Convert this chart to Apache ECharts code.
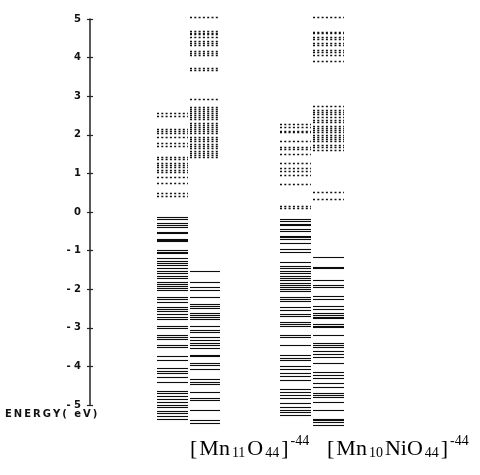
<!DOCTYPE html>
<html>
<head>
<meta charset="utf-8">
<script src="https://cdn.jsdelivr.net/npm/echarts@6/dist/echarts.min.js"></script>
<style>html,body{margin:0;padding:0;background:#fff;}#c{width:480px;height:475px;}</style>
</head>
<body>
<div id="c"></div>
<script>
// ---- data (energies in eV) ----
const yTicks = [-5,-4,-3,-2,-1,0,1,2,3,4,5];
const columnNames = ['Mn11O44 a', 'Mn11O44 b', 'Mn10NiO44 a', 'Mn10NiO44 b'];
const compoundLabels = ['[Mn11O44]-44', '[Mn10NiO44]-44'];
const axisTitle = 'ENERGY( eV)';

// unoccupied (dotted) levels
const col1Empty = [2.56,2.49,2.16,2.10,2.05,1.95,1.79,1.72,1.43,1.38,1.28,1.22,1.17,1.09,1.04,0.91,0.76,0.48,0.41];
const col2Empty = [5.04,4.70,4.65,4.60,4.54,4.42,4.37,4.32,4.18,4.13,4.07,3.73,3.68,2.92,2.73,2.68,2.62,2.57,2.52,2.47,2.42,2.31,2.26,2.21,2.16,2.09,2.04,1.95,1.90,1.85,1.76,1.71,1.66,1.59,1.54,1.48,1.42];
const col3Empty = [2.29,2.20,2.10,2.06,1.85,1.69,1.63,1.49,1.26,1.14,1.07,0.96,0.73,0.16,0.10];
const col4Empty = [5.04,4.67,4.63,4.53,4.47,4.37,4.32,4.20,4.15,4.08,3.92,2.75,2.64,2.59,2.54,2.47,2.38,2.33,2.23,2.18,2.12,2.07,2.00,1.95,1.90,1.85,1.73,1.68,1.61,0.53,0.33];

// occupied (solid) levels
const col1Filled = [-0.14,-0.18,-0.29,-0.34,-0.39,-0.51,-0.54,-0.69,-0.73,-0.76,-0.98,-1.03,-1.07,-1.20,-1.26,-1.31,-1.38,-1.46,-1.52,-1.59,-1.66,-1.72,-1.81,-1.87,-1.92,-1.98,-2.02,-2.21,-2.26,-2.32,-2.47,-2.52,-2.57,-2.64,-2.71,-2.76,-2.95,-3.01,-3.19,-3.25,-3.30,-3.45,-3.49,-3.73,-3.83,-4.05,-4.11,-4.18,-4.27,-4.40,-4.63,-4.70,-4.77,-4.85,-4.92,-5.00,-5.06,-5.15,-5.22,-5.28,-5.35];
const col2Filled = [-1.52,-1.81,-1.95,-2.02,-2.19,-2.38,-2.44,-2.49,-2.62,-2.68,-2.73,-2.78,-2.95,-3.06,-3.11,-3.23,-3.32,-3.39,-3.45,-3.52,-3.70,-3.73,-3.91,-3.96,-4.08,-4.32,-4.40,-4.46,-4.66,-4.83,-4.87,-5.13,-5.39,-5.46];
const col3Filled = [-0.19,-0.23,-0.31,-0.34,-0.45,-0.48,-0.62,-0.66,-0.69,-0.80,-0.97,-1.03,-1.29,-1.40,-1.45,-1.52,-1.59,-1.66,-1.71,-1.76,-1.84,-1.89,-1.94,-2.00,-2.04,-2.19,-2.25,-2.30,-2.47,-2.54,-2.63,-2.69,-2.85,-2.90,-2.95,-3.19,-3.25,-3.45,-3.71,-3.79,-3.83,-4.00,-4.07,-4.17,-4.26,-4.35,-4.59,-4.66,-4.74,-4.83,-4.94,-5.04,-5.13,-5.19,-5.26];
const col4Filled = [-1.16,-1.43,-1.46,-1.76,-1.89,-1.94,-2.18,-2.25,-2.44,-2.50,-2.62,-2.67,-2.71,-2.75,-2.90,-2.95,-2.99,-3.19,-3.39,-3.44,-3.49,-3.59,-3.68,-3.75,-3.92,-4.14,-4.22,-4.31,-4.42,-4.53,-4.68,-4.73,-4.78,-4.91,-5.13,-5.35,-5.39,-5.43,-5.52];

// ---- layout (x-axis units, not data) ----
const SPANS = [[6.7, 9.8], [10.0, 13.0], [19.0, 22.1], [22.3, 25.4]];

const emptySets = [col1Empty, col2Empty, col3Empty, col4Empty];
const filledSets = [col1Filled, col2Filled, col3Filled, col4Filled];
const emptyData = [], filledData = [];
emptySets.forEach((arr, c) => arr.forEach(e => emptyData.push([c, e])));
filledSets.forEach((arr, c) => arr.forEach(e => filledData.push([c, e])));

function makeRender(dotted) {
  return function (params, api) {
    const c = api.value(0), e = api.value(1);
    const p0 = api.coord([SPANS[c][0], e]);
    const p1 = api.coord([SPANS[c][1], e]);
    const y = Math.round(p0[1]) + 0.5;
    return {
      type: 'line',
      shape: { x1: Math.round(p0[0]), y1: y, x2: Math.round(p1[0]), y2: y },
      style: dotted
        ? { stroke: '#111', lineWidth: 1.4, lineDash: [2, 2.3] }
        : { stroke: '#0d0d0d', lineWidth: 1.1 }
    };
  };
}

const chart = echarts.init(document.getElementById('c'), null, { renderer: 'canvas' });
const serif = '"Liberation Serif", "DejaVu Serif", serif';
function richLabel(txt) {
  // '[Mn11O44]-44' -> rich markup
  const m = txt.match(/^\[(.*)\](-\d+)$/);
  const parts = m[1].match(/[A-Za-z]+|\d+/g);
  let out = '{br|[}';
  parts.forEach(p => { out += /\d/.test(p) ? '{sub|' + p + '}' : '{n|' + p + '}'; });
  return out + '{br|]}{sup|' + m[2] + '}';
}
const richStyles = {
  br: { fontFamily: serif, fontSize: 22, color: '#111', verticalAlign: 'middle', lineHeight: 30, padding: [0, 1, 0, 1] },
  n: { fontFamily: serif, fontSize: 22, color: '#111', verticalAlign: 'middle', lineHeight: 30, padding: [0, 2, 0, 1] },
  sub: { fontFamily: serif, fontSize: 14, color: '#111', verticalAlign: 'bottom', lineHeight: 30, padding: [0, 1, 4, 0] },
  sup: { fontFamily: serif, fontSize: 14, color: '#111', verticalAlign: 'top', lineHeight: 30, padding: [0, 0, 0, 1] }
};

chart.setOption({
  animation: false,
  backgroundColor: '#fff',
  grid: { left: 90, top: 19, width: 260, height: 386 },
  xAxis: { type: 'value', min: 0, max: 26, show: false },
  yAxis: [{
    type: 'value', min: -5, max: 5, interval: 1,
    axisLine: { show: true, lineStyle: { color: '#222', width: 1.5 } },
    axisTick: { show: true, length: 3, lineStyle: { color: '#222', width: 1.2 } },
    splitLine: { show: false },
    axisLabel: {
      margin: 9, color: '#111', fontSize: 10, fontWeight: 'bold', fontFamily: 'DejaVu Sans',
      formatter: v => v < 0 ? '- ' + Math.abs(v) : String(v)
    }
  }, {
    type: 'value', min: -5, max: 5, interval: 1, position: 'left',
    axisLine: { show: false },
    axisTick: { show: true, inside: true, length: 3, lineStyle: { color: '#222', width: 1.2 } },
    axisLabel: { show: false }, splitLine: { show: false }
  }],
  series: [
    { type: 'custom', name: 'unoccupied', renderItem: makeRender(true), data: emptyData, clip: false, silent: true },
    { type: 'custom', name: 'occupied', renderItem: makeRender(false), data: filledData, clip: false, silent: true }
  ],
  graphic: [
    { type: 'text', left: 5, top: 409, style: { text: axisTitle.split('').join('\u2009'), font: 'bold 10px "DejaVu Sans"', fill: '#111' } },
    { type: 'text', left: 189, top: 434, style: { text: richLabel(compoundLabels[0]), rich: richStyles } },
    { type: 'text', left: 326, top: 434, style: { text: richLabel(compoundLabels[1]), rich: richStyles } }
  ]
});
</script>
</body>
</html>
